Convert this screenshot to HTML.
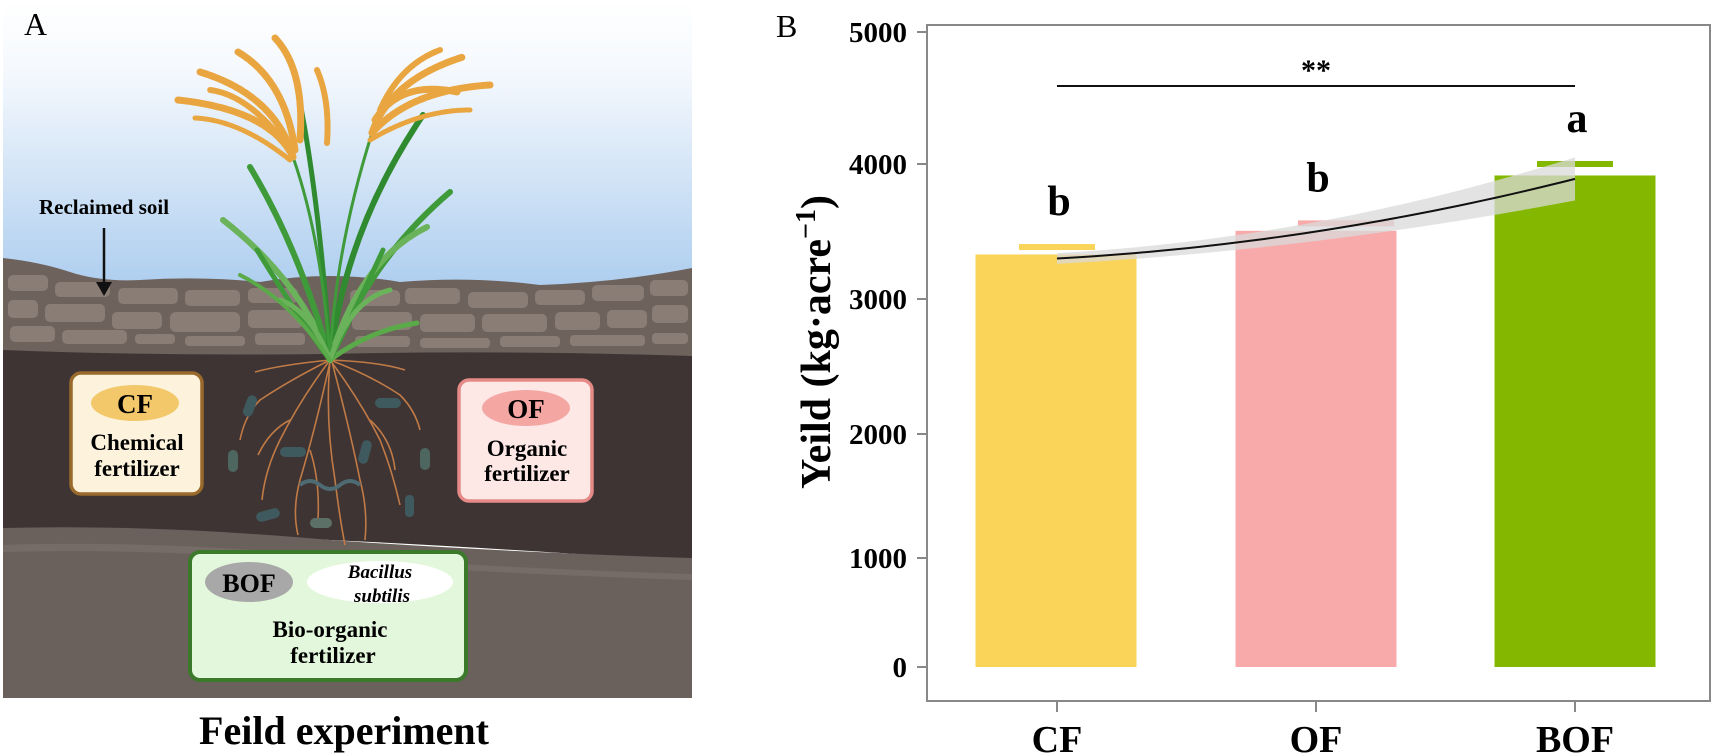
<!DOCTYPE html>
<html><head><meta charset="utf-8">
<style>
html,body{margin:0;padding:0;background:#fff;}
body{width:1713px;height:756px;overflow:hidden;position:relative;font-family:"Liberation Serif",serif;}
svg{position:absolute;left:0;top:0;}
</style></head>
<body>
<svg width="1713" height="756" viewBox="0 0 1713 756">
<defs>
<linearGradient id="sky" x1="0" y1="0" x2="0" y2="1">
<stop offset="0" stop-color="#ffffff"/><stop offset="0.25" stop-color="#f4f8fd"/><stop offset="1" stop-color="#a9cbee"/>
</linearGradient>
</defs>
<!-- Panel A -->
<g>
<rect x="3" y="0" width="689" height="300" fill="url(#sky)"/>
<path d="M3,258 Q40,262 70,272 Q100,282 140,280 Q200,276 260,282 Q330,270 400,282 Q470,276 540,285 Q620,282 692,268 L692,360 L3,360 Z" fill="#6e625c"/>
<g fill="#8a7d76">
<rect x="8" y="275" width="40" height="16" rx="5"/><rect x="55" y="282" width="55" height="15" rx="5"/><rect x="118" y="288" width="60" height="16" rx="5"/>
<rect x="185" y="290" width="55" height="16" rx="5"/><rect x="248" y="288" width="50" height="15" rx="5"/><rect x="8" y="300" width="30" height="18" rx="5"/>
<rect x="45" y="304" width="60" height="18" rx="5"/><rect x="112" y="312" width="50" height="17" rx="5"/><rect x="170" y="312" width="70" height="20" rx="6"/>
<rect x="248" y="310" width="55" height="18" rx="5"/><rect x="10" y="326" width="45" height="16" rx="5"/><rect x="62" y="330" width="65" height="14" rx="5"/>
<rect x="135" y="334" width="40" height="10" rx="4"/><rect x="185" y="336" width="60" height="10" rx="4"/><rect x="255" y="333" width="50" height="12" rx="4"/>
<rect x="350" y="290" width="50" height="16" rx="5"/><rect x="405" y="288" width="55" height="16" rx="5"/><rect x="468" y="292" width="60" height="16" rx="5"/>
<rect x="535" y="290" width="50" height="15" rx="5"/><rect x="592" y="285" width="52" height="16" rx="5"/><rect x="650" y="280" width="38" height="16" rx="5"/>
<rect x="352" y="312" width="60" height="18" rx="5"/>
<rect x="420" y="314" width="55" height="18" rx="5"/><rect x="482" y="314" width="65" height="18" rx="5"/><rect x="555" y="312" width="45" height="18" rx="5"/>
<rect x="607" y="310" width="40" height="18" rx="5"/><rect x="652" y="305" width="36" height="18" rx="5"/><rect x="355" y="336" width="55" height="11" rx="4"/><rect x="420" y="338" width="70" height="10" rx="4"/>
<rect x="500" y="336" width="60" height="11" rx="4"/><rect x="570" y="335" width="75" height="11" rx="4"/><rect x="652" y="333" width="36" height="11" rx="4"/>
</g>
<path d="M3,350 Q150,356 330,354 Q500,350 692,356 L692,562 Q500,548 330,540 Q150,528 3,528 Z" fill="#3e3434"/>
<path d="M3,528 Q150,524 330,540 Q500,552 692,558 L692,698 L3,698 Z" fill="#6a605c"/>
<path d="M3,545 Q150,540 330,556 Q500,568 692,574 L692,580 Q500,574 330,562 Q150,548 3,552 Z" fill="#766c67"/>
<!-- roots -->
<g stroke="#c07a45" stroke-width="1.6" fill="none">
<path d="M330,360 Q325,420 335,480 Q340,520 345,545"/><path d="M330,360 Q300,400 280,440 Q265,470 262,500"/>
<path d="M330,360 Q360,400 380,440 Q392,470 400,505"/><path d="M330,360 Q290,380 260,400 Q245,415 240,440"/>
<path d="M330,360 Q370,375 400,395 Q415,410 420,430"/><path d="M330,362 Q315,430 300,480 Q292,510 298,535"/>
<path d="M332,362 Q350,430 360,480 Q368,510 365,540"/><path d="M330,360 Q280,365 255,372"/><path d="M330,360 Q380,362 405,370"/>
<path d="M290,420 Q270,430 258,455"/><path d="M370,420 Q392,440 395,470"/><path d="M310,450 Q320,480 318,520"/>
</g>
<g fill="#3f5a5e">
<rect x="245" y="395" width="10" height="22" rx="5" transform="rotate(20 250 406)"/><rect x="280" y="447" width="26" height="10" rx="5"/>
<rect x="375" y="398" width="26" height="10" rx="5"/><rect x="360" y="440" width="10" height="24" rx="5" transform="rotate(15 365 452)"/>
<rect x="228" y="450" width="10" height="22" rx="5" fill="#4d6660"/><rect x="420" y="448" width="10" height="22" rx="5" fill="#4d6660"/>
<rect x="256" y="510" width="24" height="10" rx="5" transform="rotate(-15 268 515)"/><rect x="310" y="518" width="22" height="10" rx="5" fill="#5c7068"/>
<rect x="405" y="495" width="9" height="22" rx="4"/>
</g>
<path d="M300,485 q10,-8 20,0 t20,0 t20,0" stroke="#4e6b74" stroke-width="4" fill="none"/>
<!-- leaves -->
<g fill="none" stroke-linecap="round">
<path d="M330,360 Q300,280 223,220" stroke="#6bb35a" stroke-width="6"/>
<path d="M330,360 Q300,250 250,167" stroke="#3f9a3a" stroke-width="6"/>
<path d="M330,360 Q370,260 450,192" stroke="#3f9a3a" stroke-width="6"/>
<path d="M330,360 Q345,230 423,115" stroke="#2f8a30" stroke-width="6"/>
<path d="M330,360 Q360,260 427,227" stroke="#6bb35a" stroke-width="6"/>
<path d="M330,360 Q300,320 257,250" stroke="#3f9a3a" stroke-width="5"/>
<path d="M330,360 Q370,330 417,323" stroke="#5aaa4a" stroke-width="5"/>
<path d="M330,360 Q360,300 383,250" stroke="#3f9a3a" stroke-width="5"/>
<path d="M330,360 Q320,200 297,87" stroke="#2f8a30" stroke-width="5"/>
<path d="M330,360 Q335,250 372,133" stroke="#3f9a3a" stroke-width="3"/>
<path d="M330,360 Q322,240 293,157" stroke="#3f9a3a" stroke-width="3"/>
<path d="M330,360 Q350,300 390,290" stroke="#6bb35a" stroke-width="5"/>
<path d="M330,360 Q310,310 280,300" stroke="#6bb35a" stroke-width="5"/>
<path d="M330,360 Q290,300 240,275" stroke="#5aaa4a" stroke-width="4"/>
</g>
<!-- panicles -->
<g fill="none" stroke="#e9a640" stroke-linecap="round" stroke-dasharray="5 1.5">
<path d="M293,157 Q270,110 178,100" stroke-width="7"/><path d="M293,157 Q275,95 200,72" stroke-width="7"/>
<path d="M295,150 Q285,80 238,52" stroke-width="7"/><path d="M300,140 Q305,70 275,38" stroke-width="7"/>
<path d="M327,143 Q330,100 317,70" stroke-width="6"/><path d="M372,133 Q390,80 463,57" stroke-width="7"/>
<path d="M372,133 Q410,90 490,85" stroke-width="7"/><path d="M375,120 Q400,80 457,92" stroke-width="7"/>
<path d="M290,150 Q250,95 210,90" stroke-width="6"/><path d="M380,110 Q400,65 440,50" stroke-width="6"/>
<path d="M290,160 Q240,120 195,118" stroke-width="5"/><path d="M370,140 Q420,110 470,110" stroke-width="5"/>
</g>
<text x="104" y="214" font-size="21" font-weight="bold" text-anchor="middle">Reclaimed soil</text>
<line x1="104" y1="228" x2="104" y2="284" stroke="#111" stroke-width="2.5"/>
<path d="M96,282 L112,282 L104,296 Z" fill="#111"/>
<g>
<rect x="71" y="373" width="131" height="121" rx="10" fill="#fdf3dc" stroke="#9a6a2c" stroke-width="3.5"/>
<ellipse cx="135" cy="403" rx="44" ry="18" fill="#f2c86a"/>
<text x="135" y="413" font-size="27" font-weight="bold" text-anchor="middle">CF</text>
<text x="137" y="450" font-size="23" font-weight="bold" text-anchor="middle">Chemical</text>
<text x="137" y="476" font-size="23" font-weight="bold" text-anchor="middle">fertilizer</text>
</g>
<g>
<rect x="459" y="380" width="133" height="121" rx="10" fill="#fde8e6" stroke="#e58a86" stroke-width="3.5"/>
<ellipse cx="526" cy="408" rx="44" ry="18" fill="#f4a6a3"/>
<text x="526" y="418" font-size="27" font-weight="bold" text-anchor="middle">OF</text>
<text x="527" y="456" font-size="23" font-weight="bold" text-anchor="middle">Organic</text>
<text x="527" y="481" font-size="23" font-weight="bold" text-anchor="middle">fertilizer</text>
</g>
<g>
<rect x="190" y="552" width="276" height="128" rx="10" fill="#e3f7dc" stroke="#3a7a2a" stroke-width="4"/>
<ellipse cx="249" cy="582" rx="44" ry="20" fill="#a8a8a8"/>
<ellipse cx="380" cy="582" rx="73" ry="21" fill="#ffffff"/>
<text x="249" y="592" font-size="26" font-weight="bold" text-anchor="middle">BOF</text>
<text x="380" y="578" font-size="19" font-weight="bold" font-style="italic" text-anchor="middle">Bacillus</text>
<text x="382" y="602" font-size="19" font-weight="bold" font-style="italic" text-anchor="middle">subtilis</text>
<text x="330" y="637" font-size="23" font-weight="bold" text-anchor="middle">Bio-organic</text>
<text x="333" y="663" font-size="23" font-weight="bold" text-anchor="middle">fertilizer</text>
</g>
<text x="24" y="35" font-size="32">A</text>
<text x="344" y="744" font-size="40" font-weight="bold" text-anchor="middle">Feild experiment</text>
</g>
<!-- Panel B -->
<text x="776" y="37" font-size="32">B</text>
<rect x="927" y="25" width="783" height="676" fill="none" stroke="#888" stroke-width="2"/>
<g id="chart"></g>
<text transform="translate(830,342) rotate(-90)" font-size="42" font-weight="bold" text-anchor="middle">Yeild (kg·acre<tspan font-size="28" dy="-15">−1</tspan><tspan dy="15">)</tspan></text>
</svg>
<script>
const categories = ["CF","OF","BOF"];
const yields = [3330, 3505, 3915];
const errors = [55, 55, 85];
const fitValues = [3300, 3500, 3890];
const letters = ["b","b","a"];
const yTicks = [0,1000,2000,3000,4000,5000];
const yTickLabels = ["0","1000","2000","3000","4000","5000"];
const colors = ["#f9d458","#f8aaaa","#84b800"];

const NS = "http://www.w3.org/2000/svg";
const g = document.getElementById("chart");
// axis (reference image axis is slightly non-uniform; use knot-based scale)
const knotV = [0,1000,2000,3000,4000,5000];
const knotP = [667,558,434,299,164,32];
function y(v){
  for(let i=0;i<knotV.length-1;i++){
    if(v<=knotV[i+1]||i===knotV.length-2){
      const t=(v-knotV[i])/(knotV[i+1]-knotV[i]);
      return knotP[i]+t*(knotP[i+1]-knotP[i]);
    }
  }
}
function x(i){ return 1057 + i*259; }
const barW = 161;
function mk(tag, attrs){ const e=document.createElementNS(NS,tag); for(const k in attrs) e.setAttribute(k,attrs[k]); g.appendChild(e); return e; }

yTicks.forEach((t,i)=>{
  const tk=mk("line",{x1:917,x2:927,y1:y(t),y2:y(t),stroke:"#888","stroke-width":2});
  
  
  const lb=mk("text",{x:907,y:y(t)+10,"font-size":29,"font-weight":"bold","text-anchor":"end"});
  lb.textContent=yTickLabels[i];
  
  
});
categories.forEach((c,i)=>{
  const b=mk("rect",{x:x(i)-barW/2+(i===0?-1:0),y:y(yields[i]),width:barW,height:y(0)-y(yields[i]),fill:colors[i]});
  
  
  const cap=mk("rect",{x:x(i)-38+(i===1?20:0),y:y(yields[i]+errors[i])-3,width:76+(i===1?20:0),height:6,fill:colors[i]});
  
  
  const tk=mk("line",{x1:x(i),x2:x(i),y1:701,y2:712,stroke:"#888","stroke-width":2});
  
  
  const lb=mk("text",{x:x(i),y:752,"font-size":38,"font-weight":"bold","text-anchor":"middle"});
  lb.textContent=c;
  
  
  const lt=mk("text",{x:x(i)+2,y:y(yields[i]+errors[i])-32,"font-size":42,"font-weight":"bold","text-anchor":"middle"});
  lt.textContent=letters[i];
  
  
});
// fit curve with band
function curvePts(off){
  const pts=[];
  for(let k=0;k<=40;k++){
    const u=k/20;
    const v=fitValues[0]*(u-1)*(u-2)/2 - fitValues[1]*u*(u-2) + fitValues[2]*u*(u-1)/2;
    pts.push([1057+u*259, y(v+off(u))]);
  }
  return pts;
}
const up=curvePts(u=>40+30*u*u), lo=curvePts(u=>-40-30*u*u);
const band=mk("path",{d:"M"+up.map(p=>p.join(",")).join(" L")+" L"+lo.reverse().map(p=>p.join(",")).join(" L")+"Z",fill:"#d9d9d9","fill-opacity":0.75});


const line=mk("path",{d:"M"+curvePts(()=>0).map(p=>p.join(",")).join(" L"),fill:"none",stroke:"#111","stroke-width":2});


const sig=mk("line",{x1:x(0),x2:x(2),y1:86,y2:86,stroke:"#111","stroke-width":2});


const st=mk("text",{x:(x(0)+x(2))/2,y:80,"font-size":30,"font-weight":"bold","text-anchor":"middle"});
st.textContent="**";


</script>
</body></html>
